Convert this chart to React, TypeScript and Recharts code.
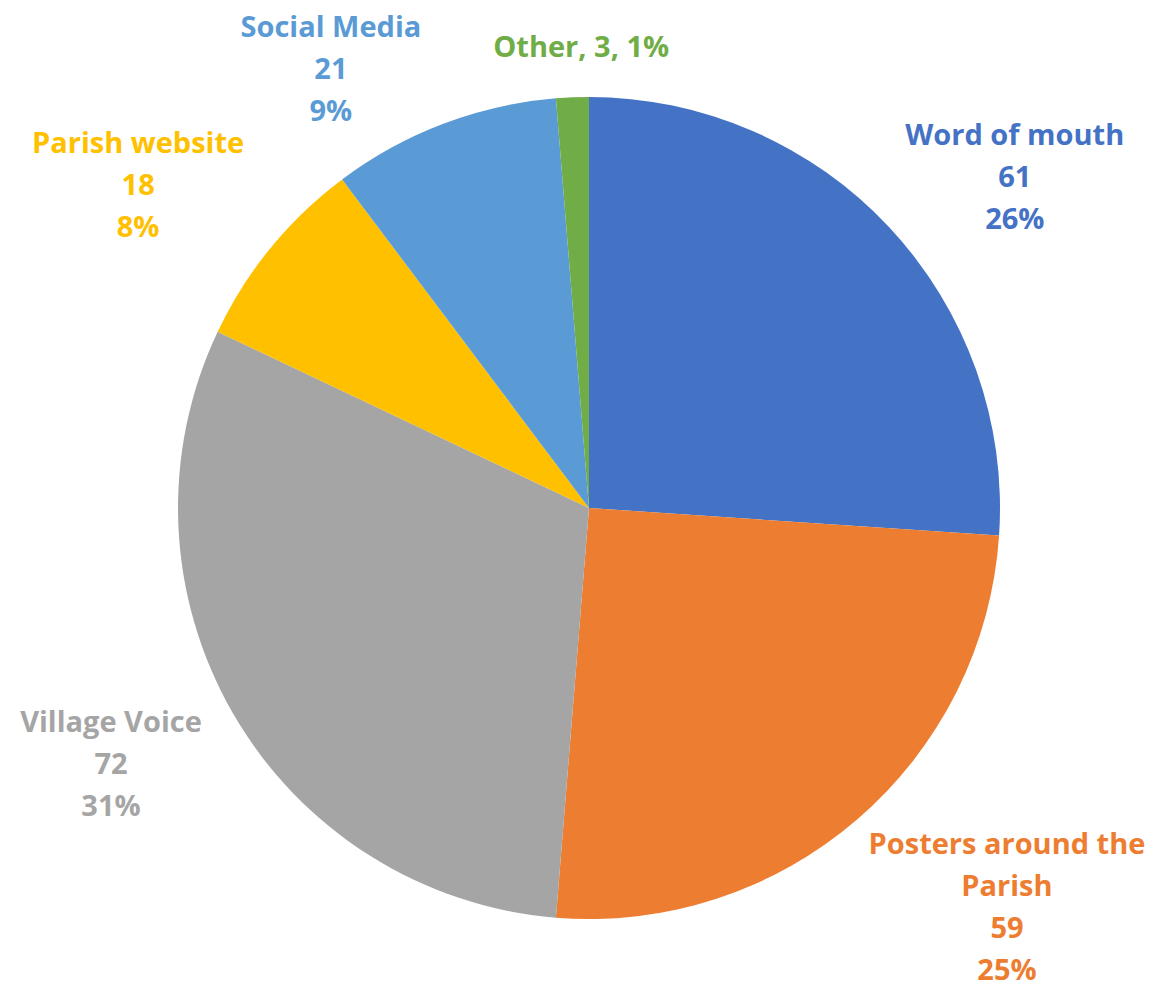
import React from 'react';
import { PieChart, Pie, Cell } from 'recharts';

const categories = ['Word of mouth', 'Posters around the Parish', 'Village Voice', 'Parish website', 'Social Media', 'Other'];
const values = [61, 59, 72, 18, 21, 3];
const percentLabels = ['26%', '25%', '31%', '8%', '9%', '1%'];
const colors = ['#4472C4', '#ED7D31', '#A5A5A5', '#FFC000', '#5B9BD5', '#70AD47'];
const labelColors = ['#4472C4', '#ED7D31', '#A5A5A5', '#FFC000', '#5B9BD5', '#70AD47'];
// label text lines per category
const labelLines = [
  ['Word of mouth', String(values[0]), percentLabels[0]],
  ['Posters around the', 'Parish', String(values[1]), percentLabels[1]],
  ['Village Voice', String(values[2]), percentLabels[2]],
  ['Parish website', String(values[3]), percentLabels[3]],
  ['Social Media', String(values[4]), percentLabels[4]],
  [`Other, ${values[5]}, ${percentLabels[5]}`],
];
// label anchor (first line center) relative to pie center, in units of outer radius
const labelAnchors = [
  [1.036, -0.912],
  [1.017, 0.813],
  [-1.163, 0.516],
  [-1.097, -0.893],
  [-0.628, -1.175],
  [-0.019, -1.127],
];

const data = categories.map((c, i) => ({ name: c, value: values[i] }));

const FONT = '"Open Sans", sans-serif';

const renderLabel = (props: any) => {
  const { cx, cy, outerRadius, index } = props;
  const [fx, fy] = labelAnchors[index];
  const x = cx + fx * outerRadius;
  const y = cy + fy * outerRadius;
  const lines = labelLines[index];
  return (
    <text
      x={x}
      y={y}
      textAnchor="middle"
      dominantBaseline="central"
      fill={labelColors[index]}
      fontFamily={FONT}
      fontWeight={700}
      fontSize={29}
    >
      {lines.map((l, k) => (
        <tspan key={k} x={x} dy={k === 0 ? 0 : 42}>
          {l}
        </tspan>
      ))}
    </text>
  );
};

export default function App() {
  return (
    <div style={{ position: 'absolute', left: 0, top: 0, width: 1153, height: 987, background: '#fff' }}>
      <PieChart width={1153} height={987} margin={{ top: 0, right: 0, bottom: 0, left: 0 }}>
        <defs>
          <filter id="pieShadow" x="-10%" y="-10%" width="120%" height="120%">
            <feDropShadow dx="0" dy="0" stdDeviation="4" floodColor="#000" floodOpacity="0.25" />
          </filter>
        </defs>
        <Pie
          data={data}
          dataKey="value"
          nameKey="name"
          cx={589}
          cy={508}
          outerRadius={411}
          startAngle={90}
          endAngle={-270}
          stroke="none"
          isAnimationActive={false}
          labelLine={false}
          label={renderLabel}
        >
          {data.map((d, i) => (
            <Cell key={d.name} fill={colors[i]} />
          ))}
        </Pie>
      </PieChart>
    </div>
  );
}
